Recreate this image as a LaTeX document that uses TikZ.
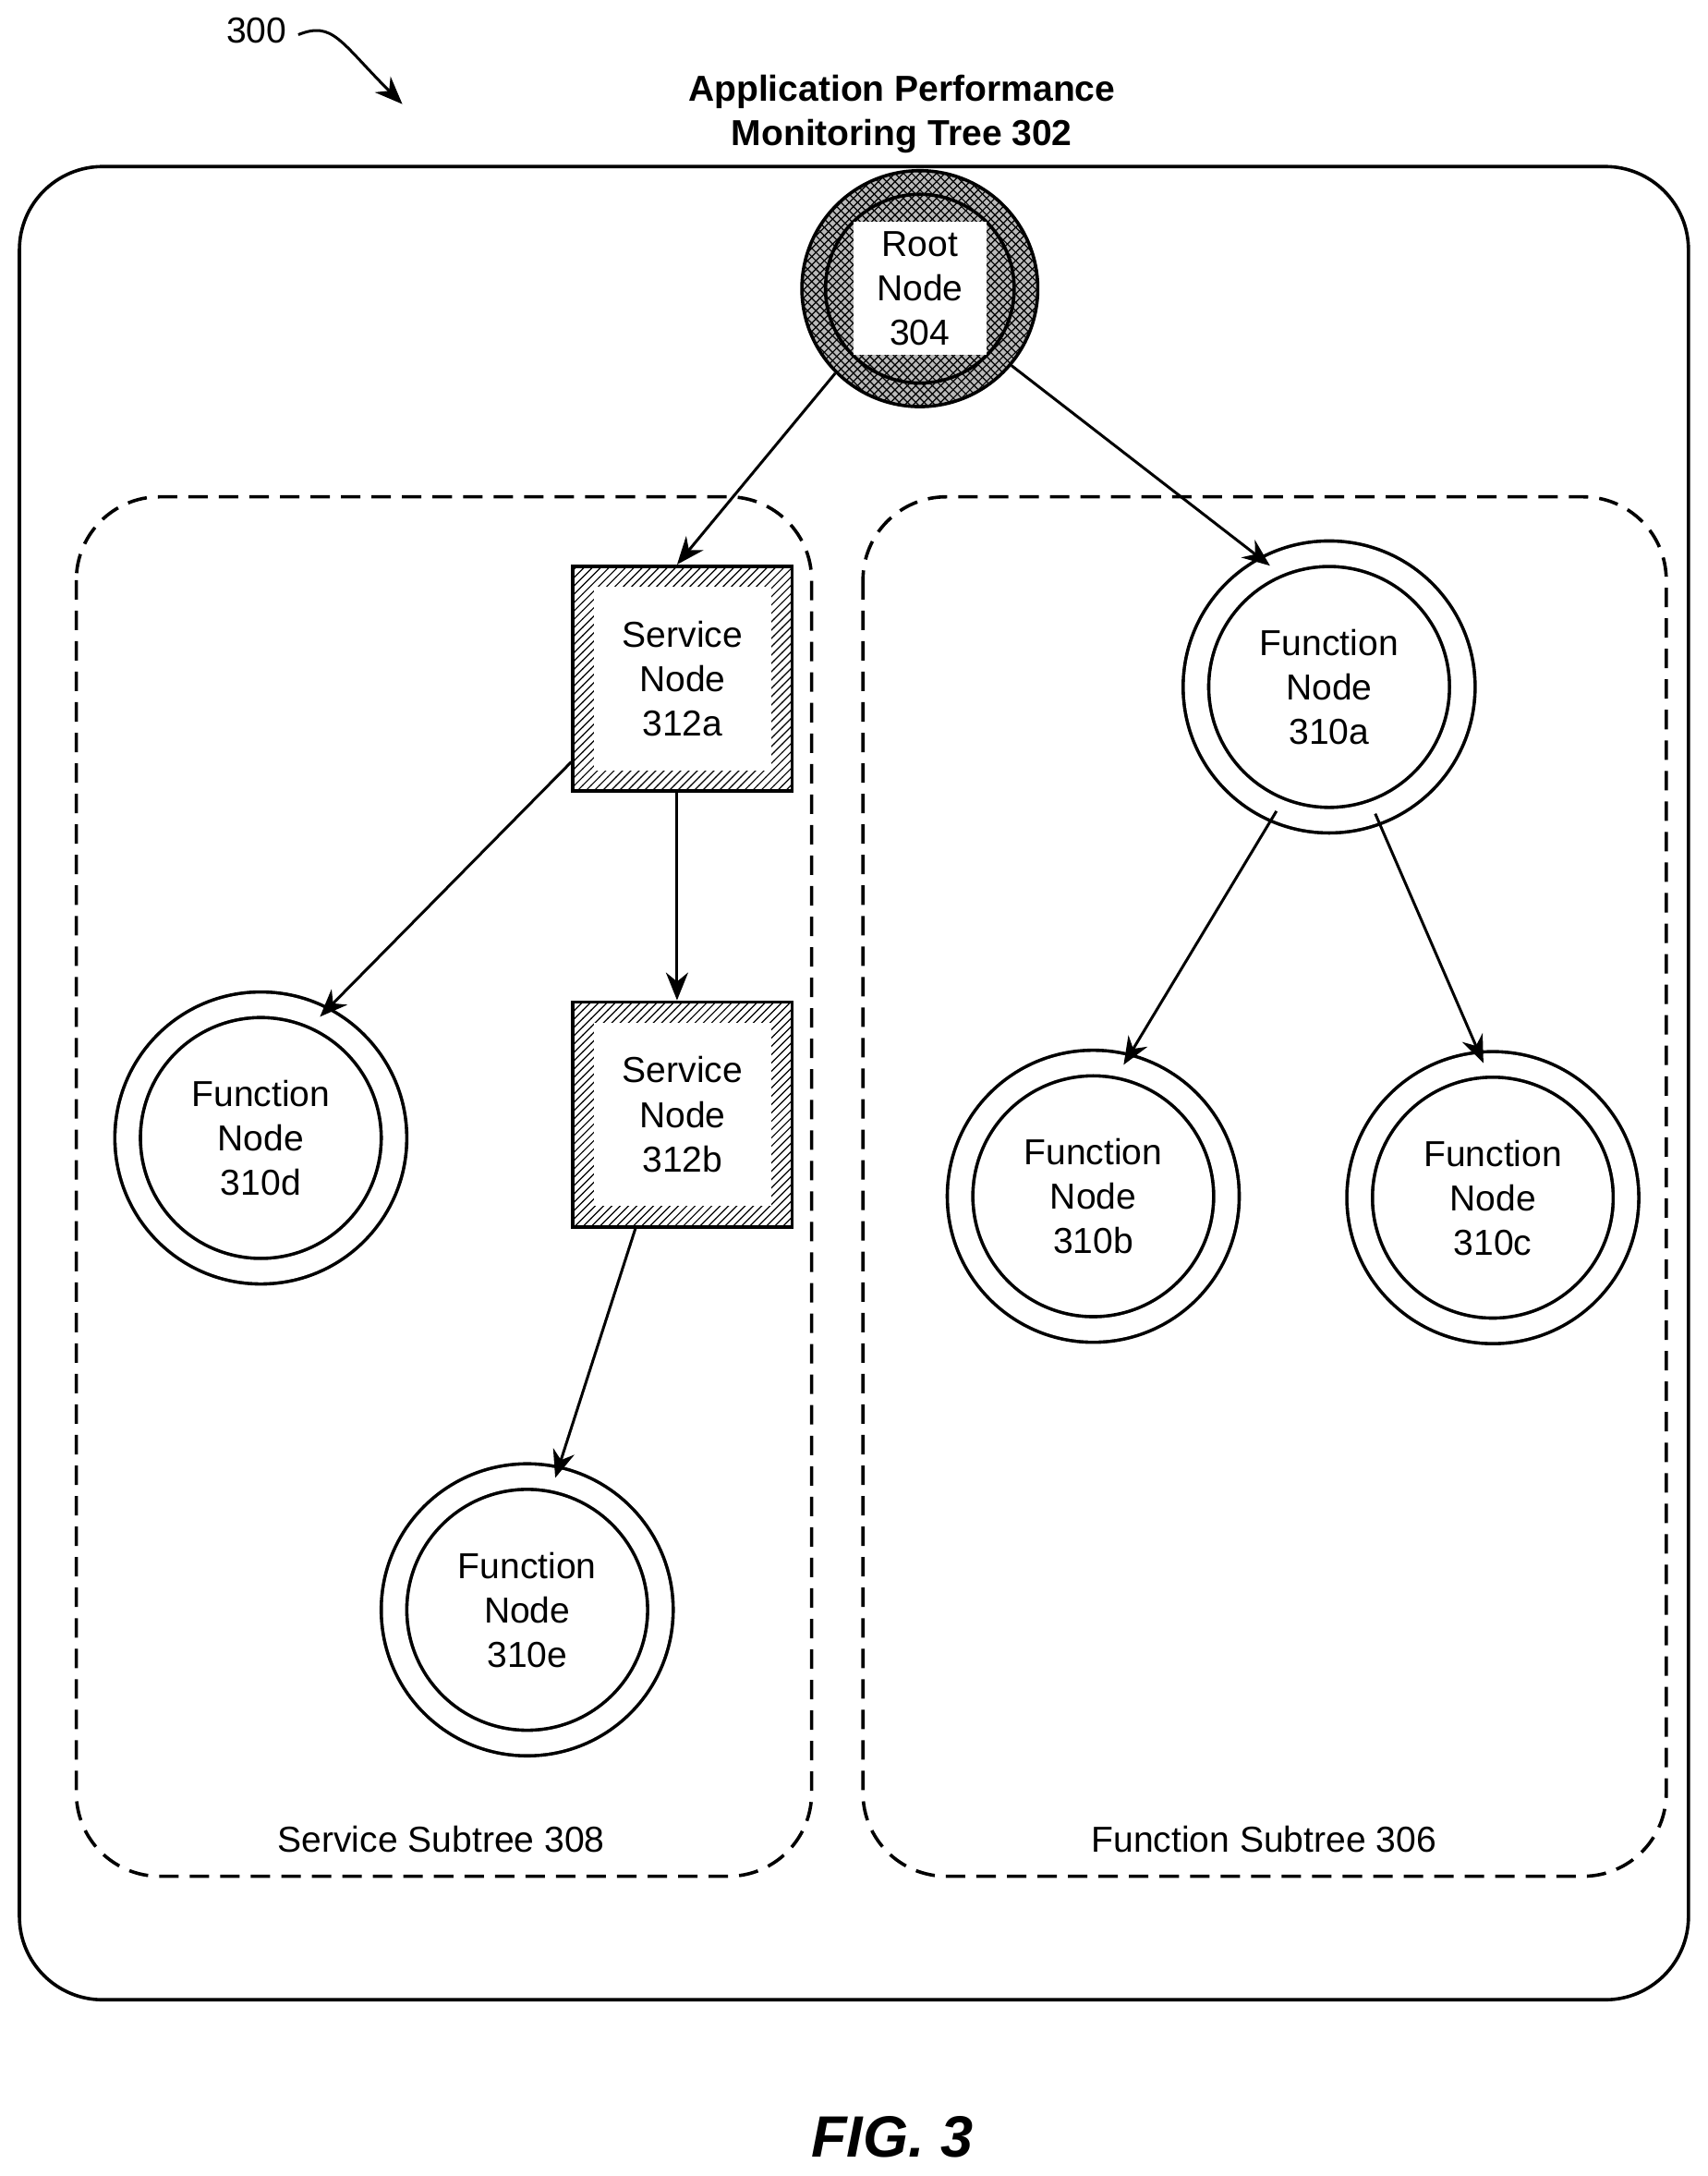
\documentclass[tikz,border=0pt]{standalone}
\usepackage{fontspec}
\setmainfont{Liberation Sans}
\usetikzlibrary{patterns,arrows.meta}
\begin{document}
\begin{tikzpicture}[x=0.5pt,y=-0.5pt,
  lbl/.style={font=\fontsize{13}{16}\selectfont,align=center},
  arr/.style={line width=1pt,-{Stealth[length=10pt,width=8pt]}},
  fn/.style={circle,draw,line width=1.2pt,minimum size=96pt,double distance=8pt,font=\fontsize{13}{16}\selectfont,align=center},
  sv/.style={draw,line width=1.2pt,minimum width=79pt,minimum height=81pt,pattern=north east lines,font=\fontsize{13}{16}\selectfont,align=center},
  sub/.style={draw,line width=1.2pt,dash pattern=on 7pt off 4pt,rounded corners=30pt}]
\useasboundingbox (0,0) rectangle (1231,1568);
\node[font=\fontsize{13}{16}\selectfont] (n300) at (185,22) {300};
\draw[line width=1pt,-{Stealth[length=10pt,width=8pt]}] (215,25) .. controls (240,15) and (245,30) .. (290,75);
\node[font=\bfseries\fontsize{13}{16}\selectfont,align=center] (title) at (650,82) {Application Performance\\Monitoring Tree 302};
\draw[line width=1.2pt,rounded corners=30pt] (14,120) rectangle (1217,1441);
\draw[sub] (55,358) rectangle (585,1352);
\draw[sub] (622,358) rectangle (1201,1352);
\node[lbl] (l308) at (318,1325) {Service Subtree 308};
\node[lbl] (l306) at (911,1325) {Function Subtree 306};
% root
\node[circle,draw,line width=1.2pt,minimum size=85pt,preaction={fill=gray!55},pattern=crosshatch] (root) at (663,208) {};
\draw[line width=1.2pt] (root.center) circle (68);
\node[fill=white,minimum width=48pt,minimum height=48pt,lbl] (rootl) at (663,208) {Root\\Node\\304};
% service nodes
\node[sv] (s1) at (492,489) {};
\node[fill=white,minimum width=64pt,minimum height=66pt,lbl] at (s1) {Service\\Node\\312a};
\node[sv] (s2) at (492,803) {};
\node[fill=white,minimum width=64pt,minimum height=66pt,lbl] at (s2) {Service\\Node\\312b};
% function nodes
\node[fn] (fa) at (958,495) {Function\\Node\\310a};
\node[fn] (fd) at (188,820) {Function\\Node\\310d};
\node[fn] (fe) at (380,1160) {Function\\Node\\310e};
\node[fn] (fb) at (788,862) {Function\\Node\\310b};
\node[fn] (fc) at (1076,863) {Function\\Node\\310c};
% arrows
\draw[arr] (root.225) -- ([xshift=-2pt]s1.north);
\draw[arr] (root.320) -- (fa.116);
\draw[arr] ([yshift=-30pt]s1.west) -- (fd.64);
\draw[arr] ([xshift=-2pt]s1.south) -- ([xshift=-2pt]s2.north);
\draw[arr] ([xshift=-17pt]s2.south) -- (fe.78);
\draw[arr] (fa.247) -- (fb.77);
\draw[arr] (fa.290) -- (fc.94);
\node[font=\bfseries\itshape\fontsize{21}{24}\selectfont] (fig) at (643,1540) {FIG. 3};
\end{tikzpicture}
\end{document}
